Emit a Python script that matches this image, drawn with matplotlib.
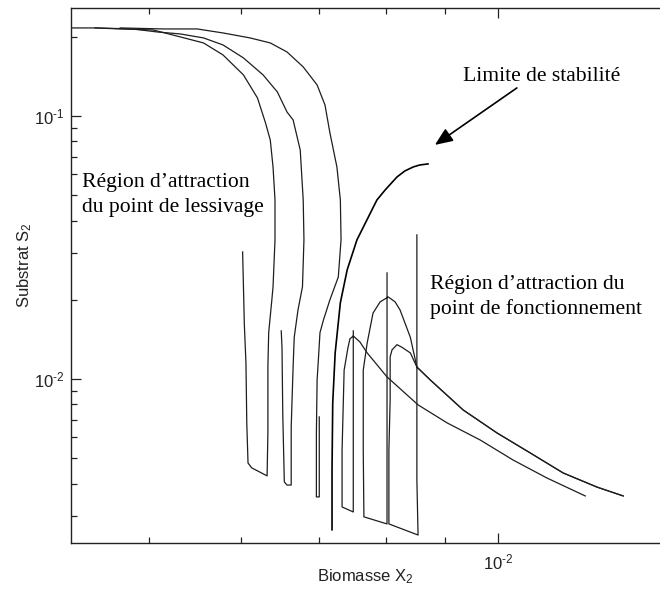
import matplotlib
matplotlib.use("Agg")
import matplotlib.pyplot as plt
from matplotlib.ticker import LogLocator, NullFormatter, FuncFormatter
import math

plt.rcParams['font.family'] = ['Liberation Sans', 'DejaVu Sans']
plt.rcParams['mathtext.fontset'] = 'custom'
plt.rcParams['mathtext.rm'] = 'Liberation Sans'
plt.rcParams['mathtext.it'] = 'Liberation Sans:italic'
plt.rcParams['mathtext.bf'] = 'Liberation Sans:bold'
plt.rcParams['axes.unicode_minus'] = False

# ---------------- data (Biomasse X2, Substrat S2) ----------------
# trajectories converging to the washout point (lessivage)
wash1_x = [6.02e-3, 6.03e-3, 6.04e-3, 6.06e-3, 6.07e-3, 6.085e-3, 6.13e-3, 6.32e-3,
           6.33e-3, 6.33e-3, 6.34e-3, 6.38e-3, 6.395e-3, 6.42e-3, 6.42e-3, 6.395e-3,
           6.36e-3, 6.30e-3, 6.20e-3, 6.03e-3, 5.79e-3, 5.57e-3, 5.32e-3, 5.04e-3,
           4.72e-3, 4.49e-3, 4.19e-3]
wash1_s = [0.0304, 0.0224, 0.0163, 0.0115, 0.00680, 0.00479, 0.00459, 0.00428,
           0.00623, 0.0111, 0.0150, 0.0200, 0.0224, 0.0338, 0.0479, 0.0640,
           0.0810, 0.0941, 0.1171, 0.1432, 0.1706, 0.1895, 0.1997, 0.2123,
           0.2142, 0.2161, 0.2161]

wash2_x = [6.50e-3, 6.51e-3, 6.52e-3, 6.54e-3, 6.575e-3, 6.63e-3, 6.63e-3, 6.655e-3,
           6.67e-3, 6.72e-3, 6.78e-3, 6.80e-3, 6.79e-3, 6.75e-3, 6.655e-3, 6.575e-3,
           6.45e-3, 6.27e-3, 6.03e-3, 5.79e-3, 5.57e-3, 5.32e-3, 5.08e-3, 4.84e-3,
           4.49e-3]
wash2_s = [0.01523, 0.0131, 0.00730, 0.00406, 0.00395, 0.00395, 0.00657, 0.0111,
           0.0144, 0.0183, 0.0224, 0.0338, 0.0479, 0.0742, 0.0966, 0.1035,
           0.1234, 0.1432, 0.1662, 0.1862, 0.1980, 0.2050, 0.2086, 0.2142,
           0.2161]

wash3_x = [7.01e-3, 7.01e-3, 6.97e-3, 6.97e-3, 6.98e-3, 7.00e-3, 7.02e-3, 7.07e-3,
           7.16e-3, 7.28e-3, 7.32e-3, 7.31e-3, 7.26e-3, 7.16e-3, 7.09e-3, 6.98e-3,
           6.79e-3, 6.575e-3, 6.36e-3, 6.11e-3, 5.79e-3, 5.50e-3, 5.14e-3, 4.72e-3]
wash3_s = [0.00717, 0.00356, 0.00356, 0.00623, 0.00991, 0.01213, 0.0150, 0.0168,
           0.0200, 0.0244, 0.0338, 0.0479, 0.0640, 0.0862, 0.1101, 0.1312,
           0.1536, 0.1751, 0.1895, 0.1980, 0.2068, 0.2142, 0.2142, 0.2161]

# stability limit (separatrix)
limit_x = [7.19e-3, 7.19e-3, 7.19e-3, 7.20e-3, 7.235e-3, 7.31e-3, 7.41e-3, 7.555e-3,
           7.76e-3, 7.86e-3, 7.99e-3, 8.18e-3, 8.31e-3, 8.45e-3, 8.56e-3, 8.70e-3]
limit_s = [0.00267, 0.00347, 0.00451, 0.00811, 0.01256, 0.0195, 0.0260, 0.0338,
           0.0428, 0.0479, 0.0523, 0.0586, 0.0618, 0.0640, 0.0651, 0.0657]

# trajectories converging to the operating point (fonctionnement)
op1_x = [7.50e-3, 7.50e-3, 7.335e-3, 7.335e-3, 7.365e-3, 7.42e-3, 7.45e-3, 7.50e-3,
         7.60e-3, 7.71e-3, 8.02e-3, 8.53e-3, 9.04e-3, 9.65e-3, 1.030e-2, 1.102e-2,
         1.189e-2]
op1_s = [0.01523, 0.00312, 0.00326, 0.00537, 0.0108, 0.0131, 0.0142, 0.01457,
         0.01382, 0.01256, 0.01018, 0.00797, 0.00680, 0.00586, 0.00492, 0.00420,
         0.00359]

op2_x = [8.02e-3, 8.02e-3, 7.66e-3, 7.65e-3, 7.65e-3, 7.71e-3, 7.80e-3, 7.91e-3,
         8.04e-3, 8.15e-3, 8.23e-3, 8.40e-3, 8.51e-3, 8.74e-3, 9.33e-3, 9.98e-3,
         1.066e-2, 1.138e-2, 1.217e-2, 1.282e-2]
op2_s = [0.0253, 0.00281, 0.00299, 0.00537, 0.0108, 0.0137, 0.0178, 0.01963,
         0.0205, 0.01963, 0.0183, 0.0144, 0.0111, 0.00991, 0.00762, 0.00623,
         0.00523, 0.00439, 0.00388, 0.00359]

op3_x = [8.51e-3, 8.51e-3, 8.53e-3, 8.05e-3, 8.05e-3, 8.07e-3, 8.07e-3, 8.10e-3,
         8.18e-3, 8.26e-3, 8.40e-3, 8.51e-3, 8.74e-3, 9.33e-3, 9.98e-3, 1.066e-2,
         1.138e-2, 1.217e-2, 1.282e-2]
op3_s = [0.0353, 0.00413, 0.00255, 0.00281, 0.00537, 0.00832, 0.01213, 0.0129,
         0.0135, 0.0132, 0.01256, 0.0111, 0.00991, 0.00762, 0.00623, 0.00523,
         0.00439, 0.00388, 0.00359]

arrow_tail = (1.038e-2, 0.1278)
arrow_tip = (8.82e-3, 0.0776)

x_label = 'Biomasse X$_2$'
y_label = 'Substrat S$_2$'
txt_wash = ['Région d\u2019attraction', 'du point de lessivage']
txt_op = ['Région d\u2019attraction du', 'point de fonctionnement']
txt_limit = 'Limite de stabilité'

# ---------------- figure ----------------
W, H = 660, 596
fig = plt.figure(figsize=(W / 100, H / 100), dpi=100)
fig.patch.set_facecolor('white')
ax = fig.add_axes([71 / W, 53 / H, 599 / W, 535 / H])
ax.set_xscale('log')
ax.set_yscale('log')
ax.set_xlim(4.281e-3, 1.407e-2)
ax.set_ylim(2.378e-3, 0.2573)

traj_col = '#1e1e1e'
for xs, ss in [(wash1_x, wash1_s), (wash2_x, wash2_s), (wash3_x, wash3_s),
               (op1_x, op1_s), (op2_x, op2_s), (op3_x, op3_s)]:
    ax.plot(xs, ss, color=traj_col, lw=0.9, solid_joinstyle='round')
ax.plot(limit_x, limit_s, color='black', lw=1.2, solid_joinstyle='round')

ax.annotate('', xy=arrow_tip, xytext=arrow_tail,
            arrowprops=dict(arrowstyle='-|>,head_length=0.6,head_width=0.25',
                            mutation_scale=18, color='black', lw=1.2,
                            shrinkA=0, shrinkB=0))


def pow_fmt(v, pos):
    e = int(round(math.log10(v)))
    if e < 0:
        return r'$10^{\text{-}%d}$' % (-e)
    return r'$10^{%d}$' % e


# axes styling (MATLAB-like)
for side in ['top', 'bottom', 'left']:
    ax.spines[side].set_color('#222222')
    ax.spines[side].set_linewidth(1.0)
ax.spines['right'].set_visible(False)
ax.xaxis.set_major_locator(LogLocator(base=10))
ax.xaxis.set_minor_locator(LogLocator(base=10, subs=range(2, 10)))
ax.yaxis.set_major_locator(LogLocator(base=10))
ax.yaxis.set_minor_locator(LogLocator(base=10, subs=range(2, 10)))
ax.xaxis.set_major_formatter(FuncFormatter(pow_fmt))
ax.yaxis.set_major_formatter(FuncFormatter(pow_fmt))
ax.xaxis.set_minor_formatter(NullFormatter())
ax.yaxis.set_minor_formatter(NullFormatter())
ax.tick_params(which='both', direction='in', top=True, right=False,
               colors='#222222', width=0.9, labelsize=12)
ax.tick_params(which='major', length=7)
ax.tick_params(which='minor', length=4.5)
ax.tick_params(axis='x', pad=7)
ax.tick_params(axis='y', pad=5)

fig.text(365 / W, 1 - 567 / H, x_label, ha='center', va='top', fontsize=12,
         color='#222222')
fig.text(25 / W, 1 - 265 / H, y_label, ha='center', va='center', rotation=90,
         fontsize=12, color='#222222')

serif = ['Liberation Serif', 'DejaVu Serif']
fs = 15.6
fig.text(82 / W, 1 - 187 / H, txt_wash[0], family=serif, fontsize=fs, va='baseline')
fig.text(82 / W, 1 - 212 / H, txt_wash[1], family=serif, fontsize=fs, va='baseline')
fig.text(430 / W, 1 - 289 / H, txt_op[0], family=serif, fontsize=fs, va='baseline')
fig.text(430 / W, 1 - 314 / H, txt_op[1], family=serif, fontsize=fs, va='baseline')
fig.text(463 / W, 1 - 81 / H, txt_limit, family=serif, fontsize=fs, va='baseline')

fig.savefig('out.png', dpi=100, facecolor='white')
